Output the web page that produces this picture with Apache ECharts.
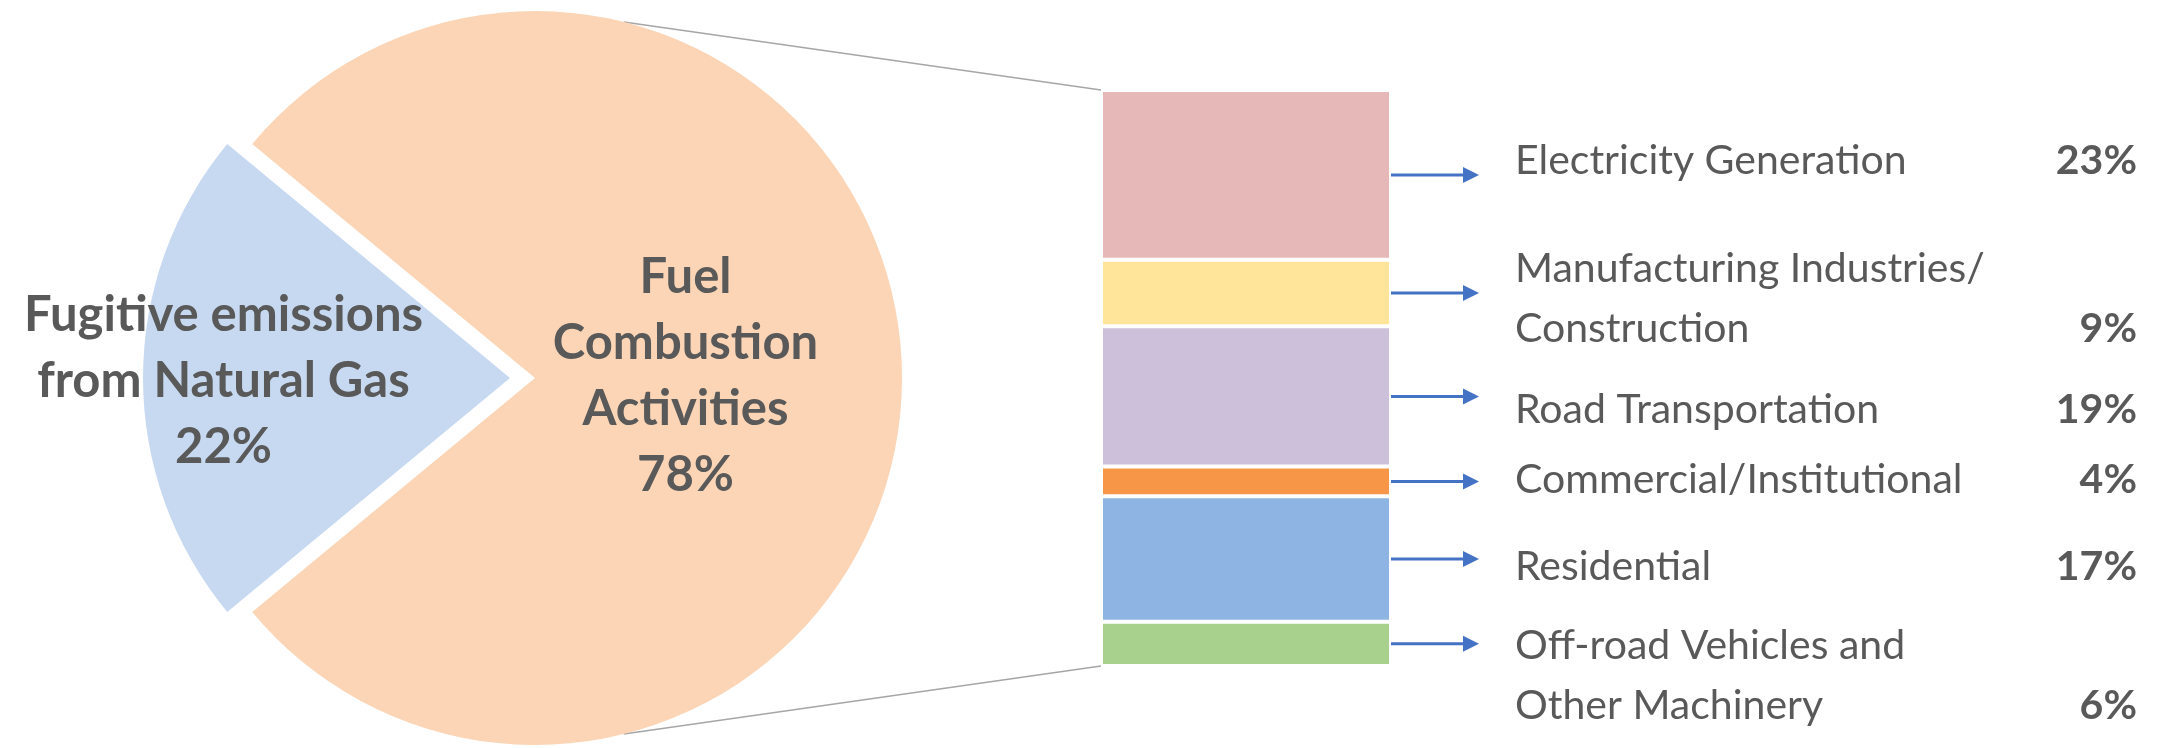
<!DOCTYPE html>
<html>
<head>
<meta charset="utf-8">
<script src="https://cdn.jsdelivr.net/npm/echarts@6/dist/echarts.min.js"></script>
<style>
html, body { margin: 0; padding: 0; background: #fff; }
#chart { width: 2164px; height: 748px; }
</style>
</head>
<body>
<div id="chart"></div>
<script>
// pie: where the emissions come from (%)
const pieNames = ['Fugitive emissions\nfrom Natural Gas', 'Fuel\nCombustion\nActivities'];
const pieValues = [22, 78];

// breakdown of fuel combustion (%)
const subNames = [
  'Electricity Generation',
  'Manufacturing Industries/\nConstruction',
  'Road Transportation',
  'Commercial/Institutional',
  'Residential',
  'Off-road Vehicles and\nOther Machinery'
];
const subValues = [23, 9, 19, 4, 17, 6];

const pieColors = ['#C6D9F1', '#FBD5B5'];
const subColors = ['#E6B8B7', '#FFE599', '#CCC0DA', '#F79646', '#8EB4E3', '#A9D18E'];
const textColor = '#595959';
const arrowColor = '#4472C4';

// layout
const pieCenter = [535, 378];
const pieRadius = 367;
const barLeft = 1101, barTop = 90, barWidth = 290, barHeight = 576;
// small vertical nudges so the side labels sit like the original slide
const labelNudge = [-14, 6, 13, -2, 8, 32];

const total = subValues.reduce((a, b) => a + b, 0);
let acc = 0;
const mids = subValues.map(v => { const m = acc + v / 2; acc += v; return [0, m]; });

function labelText(i) {
  const lines = subNames[i].split('\n');
  return lines.map((l, k) => k === lines.length - 1
    ? '{n|' + l + '}{p|' + subValues[i] + '%}'
    : '{n|' + l + '}').join('\n');
}

const barSeries = subValues.map((v, i) => ({
  type: 'bar',
  name: subNames[i],
  stack: 'fuel',
  barWidth: '100%',
  data: [v],
  itemStyle: { color: subColors[i], borderColor: '#fff', borderWidth: 2 },
  label: {
    show: true,
    position: 'right',
    distance: 124,
    offset: [0, labelNudge[i]],
    formatter: () => labelText(i),
    rich: {
      n: { fontFamily: 'Lato', fontSize: 41, color: textColor, width: 534, lineHeight: 60 },
      p: { fontFamily: 'Lato', fontSize: 41, fontWeight: 'bold', color: textColor, width: 88, align: 'right', lineHeight: 60 }
    }
  },
  emphasis: { disabled: true }
}));

// connector lines from the pie to the bar
const ang = 76 * Math.PI / 180;
const topPt = [pieCenter[0] + pieRadius * Math.cos(ang), pieCenter[1] - pieRadius * Math.sin(ang)];
const botPt = [pieCenter[0] + pieRadius * Math.cos(ang), pieCenter[1] + pieRadius * Math.sin(ang)];

const chart = echarts.init(document.getElementById('chart'));
chart.setOption({
  animation: false,
  grid: { left: barLeft, top: barTop, width: barWidth, height: barHeight },
  xAxis: { type: 'category', data: ['Fuel Combustion'], show: false },
  yAxis: { type: 'value', min: 0, max: total, inverse: true, show: false },
  graphic: [
    { type: 'line', z: -1, shape: { x1: topPt[0], y1: topPt[1], x2: barLeft, y2: barTop }, style: { stroke: '#A6A6A6', lineWidth: 1.5 } },
    { type: 'line', z: -1, shape: { x1: botPt[0], y1: botPt[1], x2: barLeft, y2: barTop + barHeight }, style: { stroke: '#A6A6A6', lineWidth: 1.5 } }
  ],
  series: [
    {
      type: 'pie',
      center: pieCenter,
      radius: pieRadius,
      startAngle: 180 + pieValues[0] / 100 * 180,
      clockwise: true,
      selectedMode: 'single',
      selectedOffset: 25,
      data: pieNames.map((n, i) => ({
        name: n, value: pieValues[i], selected: i === 0,
        itemStyle: { color: pieColors[i] }
      })),
      label: {
        show: true,
        position: 'inside',
        formatter: '{b}\n{c}%',
        fontFamily: 'Lato',
        fontSize: 49,
        fontWeight: 'bold',
        lineHeight: 66,
        color: textColor
      },
      labelLine: { show: false },
      labelLayout: p => p.dataIndex === 0 ? { dx: -100, dy: 3 } : { dx: -36, dy: -2 },
      emphasis: { disabled: true }
    },
    ...barSeries,
    {
      type: 'custom',
      data: mids,
      encode: { x: 0, y: 1 },
      z: 5,
      renderItem: function (params, api) {
        const p = api.coord([0, api.value(1)]);
        const x0 = p[0] + api.size([1, 0])[0] / 2;
        const y = p[1];
        return {
          type: 'group',
          children: [
            { type: 'line', shape: { x1: x0, y1: y, x2: x0 + 74, y2: y }, style: { stroke: arrowColor, lineWidth: 3 } },
            { type: 'polygon', shape: { points: [[x0 + 72, y - 8], [x0 + 88, y], [x0 + 72, y + 8]] }, style: { fill: arrowColor } }
          ]
        };
      }
    }
  ]
});
</script>
</body>
</html>
